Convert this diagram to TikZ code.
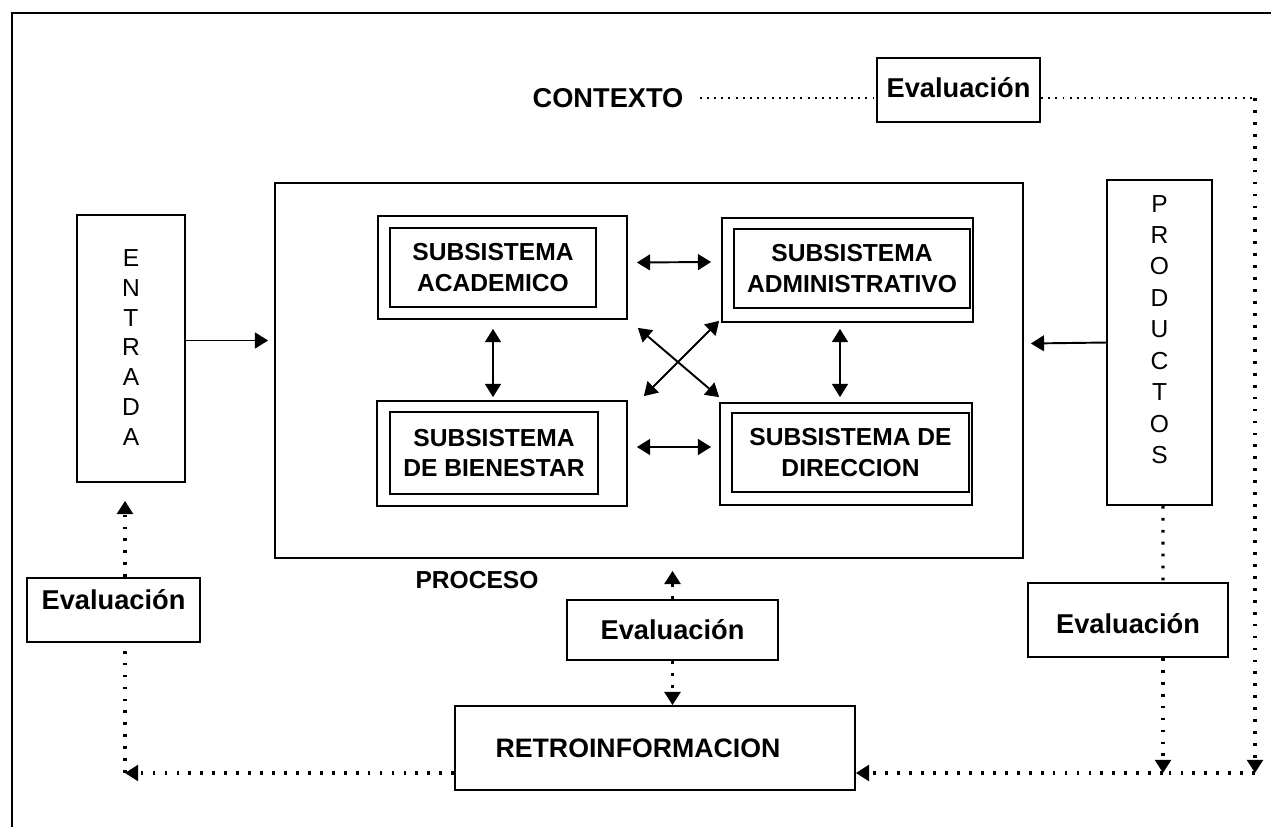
\documentclass[tikz,border=0pt]{standalone}
\usepackage{fontspec}
\setmainfont{Liberation Sans}
\usetikzlibrary{arrows.meta,fit,calc}
\begin{document}
\begin{tikzpicture}[x=0.02cm,y=-0.02cm,
  box/.style={draw,line width=1pt,inner sep=0pt,fill=white},
  bt/.style={font=\bfseries\fontsize{14}{17.5}\selectfont,align=center},
  et/.style={font=\bfseries\fontsize{15.5}{18}\selectfont},
  rt/.style={font=\bfseries\fontsize{15.2}{18}\selectfont},
  vt/.style={font=\fontsize{14}{17}\selectfont,align=center},
  vtp/.style={font=\fontsize{14}{17.9}\selectfont,align=center},
  conn/.style={line width=1.1pt},
  dots/.style={line width=1.8pt,dash pattern=on 1.6pt off 5.2pt},
  fdots/.style={line width=1.1pt,dash pattern=on 1.1pt off 3pt},
  tip/.style={-{Triangle[width=9pt,length=7.5pt]}},
  dtip/.style={{Triangle[width=9pt,length=7.5pt]}-{Triangle[width=9pt,length=7.5pt]}},
]
\useasboundingbox (0,0) rectangle (1271,827);
\draw[line width=1.3pt] (12,827) -- (12,13) -- (1271,13);

% main boxes
\node[box,fit={(77,215)(185,482)},label={[vt,yshift=0.02cm]center:{E\\N\\T\\R\\A\\D\\A}}] (entrada) {};
\node[box,fit={(275,183)(1023,558)}] (proceso) {};
\node[box,fit={(1107,180)(1212,505)},label={[vtp,yshift=0.26cm]center:{P\\R\\O\\D\\U\\C\\T\\O\\S}}] (prod) {};
\node[bt] (proclbl) at (477,580) {PROCESO};

% subsystems
\node[box,fit={(378,216)(627,319)}] (acad) {};
\node[box,fit={(390,228)(596,307)},label={[bt]center:{SUBSISTEMA\\ACADEMICO}}] (acadin) {};
\node[box,fit={(722,218)(973,322)}] (admin) {};
\node[box,fit={(734,229)(970,308)},label={[bt]center:{SUBSISTEMA\\ADMINISTRATIVO}}] (adminin) {};
\node[box,fit={(377,401)(627,506)}] (bien) {};
\node[box,fit={(390,412)(598,494)},label={[bt]center:{SUBSISTEMA\\DE BIENESTAR}}] (bienin) {};
\node[box,fit={(720,403)(972,505)}] (direc) {};
\node[box,fit={(732,413)(969,492)},label={[bt]center:{SUBSISTEMA DE\\DIRECCION}}] (direcin) {};

% context
\node[et] (contexto) at (608,98) {CONTEXTO};
\node[box,fit={(877,58)(1040,122)},label={[et,yshift=0.04cm]center:Evaluación}] (evtop) {};

% evaluations and feedback
\node[box,fit={(27,578)(200,642)},label={[et,yshift=0.2cm]center:Evaluación}] (evleft) {};
\node[box,fit={(567,600)(778,660)},label={[et]center:Evaluación}] (evmid) {};
\node[box,fit={(1028,583)(1228,657)},label={[et,yshift=-0.08cm]center:Evaluación}] (evright) {};
\node[box,fit={(455,706)(855,790)},label={[rt,xshift=-0.34cm]center:RETROINFORMACION}] (retro) {};

% coordinates
\coordinate (c1) at (1255,98);
\coordinate (c2) at (1255,773);
\coordinate (l1) at (125,773);
\coordinate (pr1) at (1163,773);

% solid connectors
\draw[conn,tip] ($(entrada.east)+(0,-8)$) -- ($(proceso.west)+(-6,-30)$);
\draw[conn,tip] ($(prod.east)+(-105,0)$) -- ($(proceso.east)+(7,-27)$);
\draw[conn,dtip] ($(acad.east)+(9,-5)$) -- ($(admin.west)+(-10,-8)$);
\draw[conn,dtip] ($(bien.east)+(9,-6.5)$) -- ($(direc.west)+(-8,-7)$);
\draw[conn,dtip] ($(acad.south)+(-9.5,9)$) -- ($(bien.north)+(-9,-3)$);
\draw[conn,dtip] ($(admin.south)+(-7.5,6)$) -- ($(direc.north)+(-6,-5)$);
\draw[conn,dtip] ($(acad.south east)+(10,8)$) -- ($(direc.north west)+(0,-5)$);
\draw[conn,dtip] ($(bien.north east)+(16,-4)$) -- ($(admin.south west)+(-2,-2)$);

% dotted connectors
\draw[fdots] ($(contexto.east)+(10,0)$) -- (evtop.west |- c1);
\draw[fdots] (evtop.east |- c1) -- (c1);
\draw[dots,tip] (c1) -- (c2);
\draw[dots] (c2) -- (pr1);
\draw[dots,tip] (pr1) -- (retro.east |- pr1);
\draw[dots] ($(prod.south)+(3.5,0)$) -- ($(evright.north)+(35,0)$);
\draw[dots,tip] ($(evright.south)+(35,0)$) -- (pr1);
\draw[dots,tip] (retro.west |- l1) -- (l1);
\draw[dots] (l1) -- (evleft.south -| l1);
\draw[dots,tip] (evleft.north -| l1) -- ($(entrada.south)+(-6,18)$);
\draw[dots,tip] (evmid.north) -- ($(proceso.south)+(23.5,12)$);
\draw[dots,tip] (evmid.south) -- (retro.north -| evmid.south);
\end{tikzpicture}
\end{document}
